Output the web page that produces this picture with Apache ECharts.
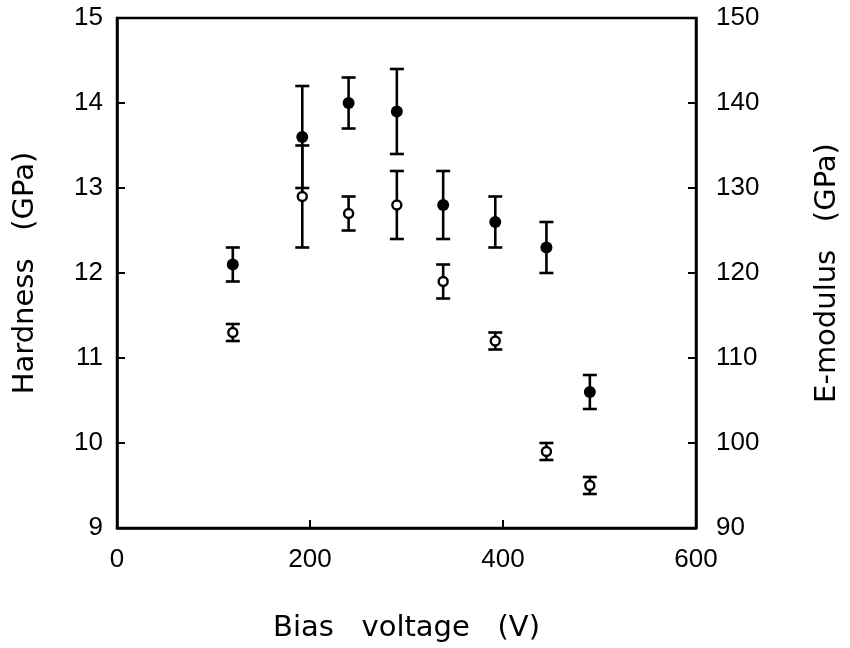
<!DOCTYPE html>
<html>
<head>
<meta charset="utf-8">
<script src="https://cdn.jsdelivr.net/npm/echarts@6/dist/echarts.min.js"></script>
<style>
html,body{margin:0;padding:0;background:#fff;overflow:hidden;}
#chart{width:850px;height:648px;}
</style>
</head>
<body>
<div id="chart"></div>
<script>
var voltage = [120, 192, 240, 290, 338, 392, 445, 490];
var hardness = [12.1, 13.6, 14.0, 13.9, 12.8, 12.6, 12.3, 10.6];
var hardnessErr = [0.2, 0.6, 0.3, 0.5, 0.4, 0.3, 0.3, 0.2];
var modulus = [113, 129, 127, 128, 119, 112, 99, 95];
var modulusErr = [1, 6, 2, 4, 2, 1, 1, 1];
var xTicks = [0, 200, 400, 600];
var leftTicks = [9, 10, 11, 12, 13, 14, 15];
var rightTicks = [90, 100, 110, 120, 130, 140, 150];

var hardPts = voltage.map(function (v, i) { return [v, hardness[i]]; });
var modPts = voltage.map(function (v, i) { return [v, modulus[i]]; });
var hardErrData = voltage.map(function (v, i) { return [v, hardness[i] - hardnessErr[i], hardness[i] + hardnessErr[i]]; });
var modErrData = voltage.map(function (v, i) { return [v, modulus[i] - modulusErr[i], modulus[i] + modulusErr[i]]; });

function errRender(params, api) {
  var x = api.value(0);
  var lo = api.coord([x, api.value(1)]);
  var hi = api.coord([x, api.value(2)]);
  var hw = 7;
  var st = { stroke: '#000', lineWidth: 2.6 };
  return {
    type: 'group',
    children: [
      { type: 'line', shape: { x1: lo[0], y1: lo[1], x2: hi[0], y2: hi[1] }, style: st },
      { type: 'line', shape: { x1: lo[0] - hw, y1: lo[1], x2: lo[0] + hw, y2: lo[1] }, style: st },
      { type: 'line', shape: { x1: hi[0] - hw, y1: hi[1], x2: hi[0] + hw, y2: hi[1] }, style: st }
    ]
  };
}

var tickFont = { fontFamily: 'Liberation Sans, Arial, sans-serif', fontSize: 26, color: '#000' };
var nameFont = { fontFamily: 'DejaVu Sans, sans-serif', fontSize: 29, color: '#000' };

var chart = echarts.init(document.getElementById('chart'));
chart.setOption({
  animation: false,
  backgroundColor: '#fff',
  grid: { left: 117, right: 142, top: 18, bottom: 114, show: true, borderColor: '#000', borderWidth: 2.5, backgroundColor: 'transparent' },
  xAxis: {
    type: 'value', min: xTicks[0], max: xTicks[xTicks.length - 1], interval: 200,
    name: 'Bias   voltage   (V)', nameLocation: 'middle', nameGap: 86,
    nameTextStyle: nameFont,
    axisLine: { show: true, lineStyle: { color: '#000', width: 2.5 } },
    axisTick: { show: true, inside: true, length: 8, lineStyle: { color: '#000', width: 2 } },
    axisLabel: Object.assign({ margin: 19 }, tickFont),
    splitLine: { show: false }
  },
  yAxis: [
    {
      type: 'value', min: leftTicks[0], max: leftTicks[leftTicks.length - 1], interval: 1,
      name: 'Hardness   (GPa)', nameLocation: 'middle', nameGap: 77, nameRotate: 90,
      nameTextStyle: nameFont,
      axisLine: { show: true, lineStyle: { color: '#000', width: 2.5 } },
      axisTick: { show: true, inside: true, length: 8, lineStyle: { color: '#000', width: 2 } },
      axisLabel: Object.assign({ margin: 14 }, tickFont),
      splitLine: { show: false }
    },
    {
      type: 'value', min: rightTicks[0], max: rightTicks[rightTicks.length - 1], interval: 10,
      position: 'right',
      name: 'E-modulus   (GPa)', nameLocation: 'middle', nameGap: 117, nameRotate: 90,
      nameTextStyle: nameFont,
      axisLine: { show: true, lineStyle: { color: '#000', width: 2.5 } },
      axisTick: { show: true, inside: true, length: 8, lineStyle: { color: '#000', width: 2 } },
      axisLabel: Object.assign({ margin: 20 }, tickFont),
      splitLine: { show: false }
    }
  ],
  series: [
    { type: 'custom', name: 'hardErr', yAxisIndex: 0, data: hardErrData, renderItem: errRender, z: 2 },
    { type: 'custom', name: 'modErr', yAxisIndex: 1, data: modErrData, renderItem: errRender, z: 2 },
    { type: 'scatter', name: 'Hardness', yAxisIndex: 0, data: hardPts, symbol: 'circle', symbolSize: 12,
      itemStyle: { color: '#000', opacity: 1 }, z: 5 },
    { type: 'scatter', name: 'E-modulus', yAxisIndex: 1, data: modPts, symbol: 'circle', symbolSize: 9,
      itemStyle: { color: '#fff', borderColor: '#000', borderWidth: 2.4, opacity: 1 }, z: 5 }
  ]
});
</script>
</body>
</html>
